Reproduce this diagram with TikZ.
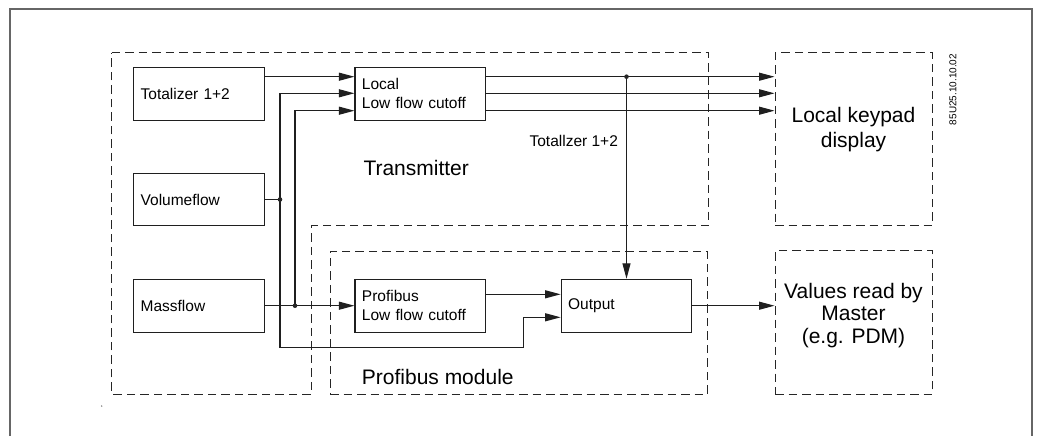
\documentclass[tikz,border=0pt]{standalone}
\usepackage{fontspec}
\setmainfont{Liberation Sans}
\usetikzlibrary{arrows.meta,calc}
\begin{document}
\begin{tikzpicture}[x=1pt,y=-1pt,
  line/.style={line width=1.1pt, draw=black!88},
  arr/.style={line, -{Triangle[length=15.5pt 0 0,width=8pt 0 0]}},
  blk/.style={draw=black!88, line width=1.1pt, text width=116.7pt, inner xsep=7pt, inner ysep=0pt,
    minimum height=52.7pt, align=left, font=\fontsize{15.5}{19}\selectfont},
  zone/.style={draw=black!85, line width=1pt, dash pattern=on 8.5pt off 5pt},
  big/.style={font=\fontsize{21}{25}\selectfont},
  small/.style={font=\fontsize{15.5}{19}\selectfont},
  jdot/.style={fill=black!85},
]
\useasboundingbox (0,0) rectangle (1040,436);
% outer frame
\draw[draw=black!60, line width=2pt] (10,436) -- (10,9.3) -- (1031.7,9.3) -- (1031.7,436);

% zones
\draw[zone] (111.5,52.7) -- (708.5,52.7) -- (708.5,225.7) -- (311.7,225.7) -- (311.7,394.3) -- (111.5,394.3) -- cycle;
\node[zone, minimum width=377.2pt, minimum height=143.3pt, inner sep=0pt] (pm) at (518.6,322.65) {};
\node[zone, minimum width=157pt, minimum height=173pt, inner sep=0pt] (kp) at (853.5,139.2) {};
\node[zone, minimum width=157pt, minimum height=143.6pt, inner sep=0pt] (ms) at (853.5,322.5) {};

% zone labels
\node[big, anchor=base west, inner sep=0pt] (tl) at (363.3,175) {Transmitter};
\node[big, anchor=base west, inner sep=0pt] (pl) at (361.7,384) {Profibus module};
\node[big, align=center, inner sep=0pt] (kpt) at (853.5,129.8) {Local keypad\\display};
\node[font=\fontsize{21}{22.5}\selectfont, align=center, inner sep=0pt] (mst) at (853.5,315.4) {Values read by\\Master\\(e.g. PDM)};
\node[rotate=90, font=\fontsize{10}{12}\selectfont, inner sep=0pt] (code) at (953,89.5) {85U25.10.10.02};

% blocks
\node[blk] (tot) at (199,93.7) {Totalizer 1+2};
\node[blk] (vol) at (199,199.5) {Volumeflow};
\node[blk] (mass) at (199,305.7) {Massflow};
\node[blk] (loc) at (420.3,93.7) {Local\\Low flow cutoff};
\node[blk] (pro) at (420.3,305.7) {Profibus\\Low flow cutoff};
\node[blk] (out) at (626.5,305.7) {Output};

\node[small, anchor=base west, inner sep=0pt] (tt) at (529.4,146.7) {Totallzer 1+2};

% coordinates
\coordinate (l1) at ($(loc.west)+(0,-17)$);
\coordinate (l2) at ($(loc.west)+(0,-0.4)$);
\coordinate (l3) at ($(loc.west)+(0,17)$);
\coordinate (o1) at ($(out.west)+(0,-11.4)$);
\coordinate (o2) at ($(out.west)+(0,11.6)$);
\coordinate (jv) at (280,199.5);
\coordinate (jm) at (295,305.7);
\coordinate (vb) at (280,347.3);
\coordinate (vr) at (523.3,347.3);
\coordinate (jt) at (out.north |- l1);

% connectors
\draw[arr] (tot.east |- l1) -- (l1);
\draw[line] (vol.east) -- (jv);
\draw[arr] (jv) |- (l2);
\draw[arr] (jv) -- (vb) -- (vr) |- (o2);
\draw[arr] (mass.east) -- (pro.west);
\draw[arr] (jm) |- (l3);
\draw[arr] (pro.east |- o1) -- (o1);
\foreach \c in {l1,l2,l3} \draw[arr] (loc.east |- \c) -- (kp.west |- \c);
\draw[arr] (jt) -- (out.north);
\draw[arr] (out.east) -- (ms.west |- out.east);

% junction dots
\fill[jdot] (jv) circle (2.3);
\fill[jdot] (jm) circle (2.3);
\fill[jdot] (jt) circle (2.3);
\fill[black!50] (101.7,406) circle (0.8);
\end{tikzpicture}
\end{document}
